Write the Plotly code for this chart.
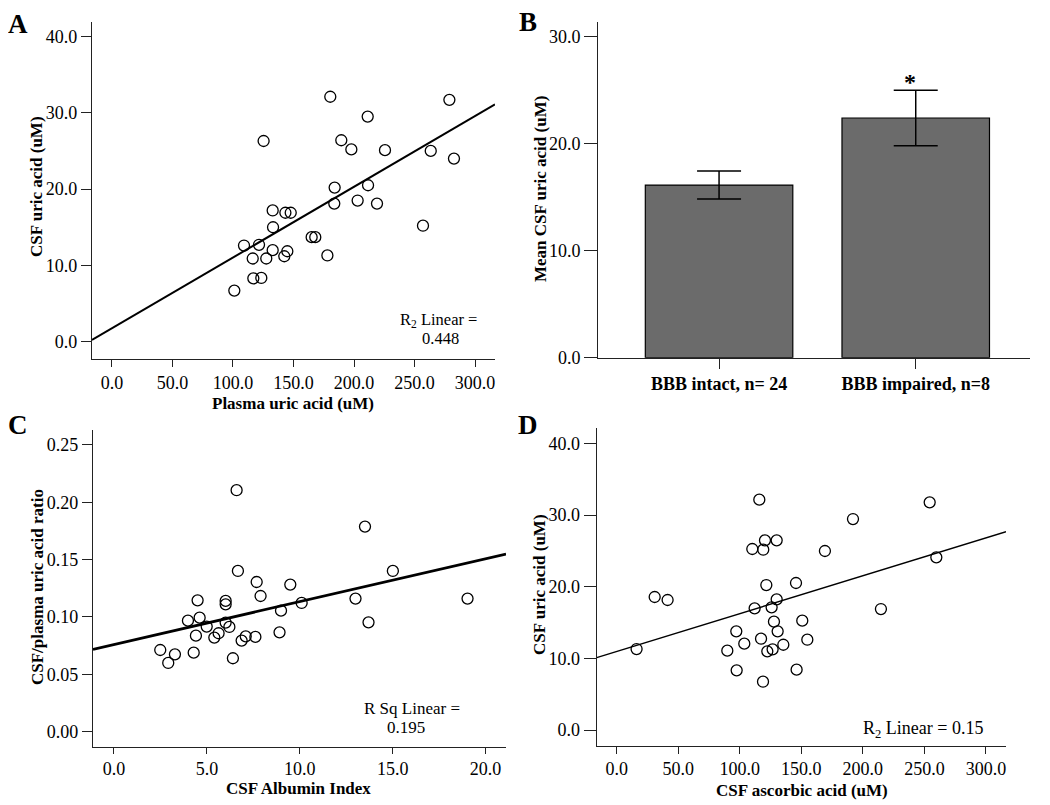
import plotly.graph_objects as go

# Panel A: plasma vs CSF uric acid
plasma_ua = [101.1, 109.1, 116.3, 116.8, 121.5, 123.4, 125.3, 127.5, 132.8, 133.1, 132.8,
             142.4, 143.3, 147.7, 144.9, 165.0, 168.0, 178.0, 180.4, 183.7, 184.0, 189.5,
             197.8, 203.0, 211.3, 211.6, 219.0, 225.6, 257.0, 263.4, 278.8, 282.6]
csf_ua_a = [6.7, 12.6, 10.9, 8.3, 12.7, 8.35, 26.3, 10.9, 17.2, 15.0, 12.0,
            11.2, 16.9, 16.9, 11.85, 13.7, 13.7, 11.3, 32.1, 18.1, 20.2, 26.4,
            25.2, 18.5, 29.5, 20.5, 18.1, 25.1, 15.2, 25.0, 31.7, 24.0]
fit_a = (0.0928, 1.75)  # slope, intercept

# Panel B: mean CSF uric acid by BBB status
groups = ["BBB intact, n= 24", "BBB impaired, n=8"]
group_means = [16.15, 22.42]
group_err = [1.31, 2.6]

# Panel C: albumin index vs CSF/plasma ratio
alb_index = [2.49, 2.92, 3.28, 3.98, 4.29, 4.41, 4.50, 4.61, 4.99, 5.40, 5.63,
             6.01, 6.01, 6.01, 6.21, 6.40, 6.60, 6.67, 6.87, 7.09, 7.61, 7.68,
             7.89, 8.91, 8.99, 9.49, 10.10, 13.00, 13.51, 13.70, 15.01, 19.03]
ua_ratio = [0.0712, 0.0599, 0.0674, 0.0968, 0.0689, 0.0837, 0.1145, 0.0994, 0.0916, 0.0820, 0.0858,
            0.1140, 0.1110, 0.0951, 0.0913, 0.0640, 0.2105, 0.1401, 0.0794, 0.0831, 0.0826, 0.1305,
            0.1183, 0.0866, 0.1055, 0.1282, 0.1122, 0.1160, 0.1788, 0.0953, 0.1401, 0.1160]
fit_c = (0.003738, 0.0760)

# Panel D: CSF ascorbic acid vs CSF uric acid
csf_aa = [16.2, 30.9, 41.4, 89.9, 97.2, 97.5, 103.7, 110.2, 112.1, 115.9, 117.3,
          118.9, 119.1, 120.5, 121.6, 122.4, 125.9, 126.7, 127.8, 130.0, 130.0, 130.8,
          135.4, 145.7, 146.2, 150.8, 154.9, 169.2, 192.0, 214.7, 254.3, 259.7]
csf_ua_d = [11.3, 18.56, 18.14, 11.07, 13.77, 8.33, 12.05, 25.26, 16.98, 32.14, 12.74,
            6.74, 25.16, 26.47, 20.23, 10.98, 17.12, 11.26, 15.12, 18.23, 26.47, 13.77,
            11.9, 20.51, 8.42, 15.26, 12.6, 24.98, 29.44, 16.88, 31.77, 24.09]
fit_d = (0.05287, 10.95)

# page body has an 8px margin, so the figure is placed at (8, 8)
OFF = 8
W, H = 1050 - OFF, 805 - OFF
FONT = "Liberation Serif"


def px_x(a):
    return (a - OFF) / W


def px_y(a):
    return 1 - (a - OFF) / H


def dom_x(a, b):
    return [px_x(a), px_x(b)]


def dom_y(top, bottom):
    return [px_y(bottom), px_y(top)]


def scatter(x, y, xa, ya):
    return go.Scatter(x=x, y=y, mode="markers", xaxis=xa, yaxis=ya,
                      marker=dict(symbol="circle-open", size=11, color="black",
                                  line=dict(width=1.3, color="black")),
                      showlegend=False, hoverinfo="x+y")


def fit_line(fit, xr, xa, ya, width):
    xs = list(xr)
    ys = [fit[0] * v + fit[1] for v in xs]
    return go.Scatter(x=xs, y=ys, mode="lines", xaxis=xa, yaxis=ya,
                      line=dict(color="black", width=width), showlegend=False,
                      hoverinfo="skip")


xr_a = (-16.5, 316.5)
xr_c = (-1.13, 21.1)
xr_d = (-16.2, 316.3)

fig = go.Figure()
fig.add_trace(fit_line(fit_a, xr_a, "x", "y", 2))
fig.add_trace(scatter(plasma_ua, csf_ua_a, "x", "y"))

fig.add_trace(go.Bar(x=groups, y=group_means, xaxis="x2", yaxis="y2", width=0.75,
                     marker=dict(color="#6b6b6b", line=dict(color="black", width=1.2)),
                     error_y=dict(type="data", array=group_err, color="black",
                                  thickness=1.5, width=22),
                     showlegend=False))

fig.add_trace(fit_line(fit_c, xr_c, "x3", "y3", 2.8))
fig.add_trace(scatter(alb_index, ua_ratio, "x3", "y3"))

fig.add_trace(fit_line(fit_d, xr_d, "x4", "y4", 1.4))
fig.add_trace(scatter(csf_aa, csf_ua_d, "x4", "y4"))

axis_common = dict(showline=True, linecolor="#222", linewidth=1.2, ticks="outside",
                   tickcolor="#222", tickwidth=1.3, ticklen=7, showgrid=False,
                   zeroline=False, mirror=False, automargin=False,
                   tickfont=dict(family=FONT, size=18, color="black"))

fig.update_layout(
    width=W, height=H, margin=dict(l=0, r=0, t=0, b=0),
    paper_bgcolor="white", plot_bgcolor="white",
    font=dict(family=FONT, color="black"),
    xaxis=dict(axis_common, domain=dom_x(92, 495), range=list(xr_a), dtick=50,
               tick0=0, tickformat=".1f", anchor="y"),
    yaxis=dict(axis_common, domain=dom_y(22, 359), range=[-2.27, 41.9], dtick=10,
               tick0=0, tickformat=".1f", anchor="x", ticklen=10),
    xaxis2=dict(axis_common, domain=dom_x(598.3, 1030), range=[-0.614, 1.581],
                type="category", anchor="y2", ticklen=10,
                tickvals=groups, ticktext=["<b>%s</b>" % g for g in groups]),
    yaxis2=dict(axis_common, domain=dom_y(21.7, 357.7), range=[0, 31.43], dtick=10,
                tickformat=".1f", anchor="x2", ticklen=13),
    xaxis3=dict(axis_common, domain=dom_x(93, 506), range=list(xr_c), dtick=5,
                tick0=0, tickformat=".1f", anchor="y3", ticklen=6),
    yaxis3=dict(axis_common, domain=dom_y(430, 746.7), range=[-0.0131, 0.263],
                dtick=0.05, tick0=0, tickformat=".2f", anchor="x3", ticklen=10),
    xaxis4=dict(axis_common, domain=dom_x(596.7, 1006), range=list(xr_d), dtick=50,
                tick0=0, tickformat=".1f", anchor="y4"),
    yaxis4=dict(axis_common, domain=dom_y(428.3, 745.7), range=[-2.19, 42.1],
                dtick=10, tick0=0, tickformat=".1f", anchor="x4", ticklen=12),
)


def page_text(text, px, py, size, angle=0):
    fig.add_annotation(x=px_x(px), y=px_y(py), xref="paper", yref="paper",
                       xanchor="center", yanchor="middle", showarrow=False,
                       text=text, textangle=angle,
                       font=dict(family=FONT, size=size, color="black"))


# axis titles
page_text("<b>Plasma uric acid (uM)</b>", 293, 403, 17)
page_text("<b>CSF uric acid (uM)</b>", 37, 187, 17, -90)
page_text("<b>Mean CSF uric acid (uM)</b>", 540, 189, 17, -90)
page_text("<b>CSF Albumin Index</b>", 298, 788, 17)
page_text("<b>CSF/plasma uric acid ratio</b>", 37, 587, 17, -90)
page_text("<b>CSF ascorbic acid (uM)</b>", 802, 790, 17)
page_text("<b>CSF uric acid (uM)</b>", 539, 585, 17, -90)

# fit statistics
page_text("R<sub>2</sub> Linear =", 438, 320, 16.5)
page_text("0.448", 440, 338, 16.5)
page_text("R Sq Linear =", 412, 708, 17)
page_text("0.195", 406, 727, 17)
page_text("R<sub>2</sub> Linear = 0.15", 923, 729, 18)

# panel letters
for letter, px, py in [("A", 18, 24), ("B", 528, 22), ("C", 18, 425), ("D", 528, 425)]:
    page_text("<b>%s</b>" % letter, px, py, 27)

fig.add_annotation(x=1, y=25.8, xref="x2", yref="y2", showarrow=False, xshift=-6,
                   xanchor="center", yanchor="middle", text="<b>*</b>",
                   font=dict(family=FONT, size=24, color="black"))

fig.write_html("out.html")
